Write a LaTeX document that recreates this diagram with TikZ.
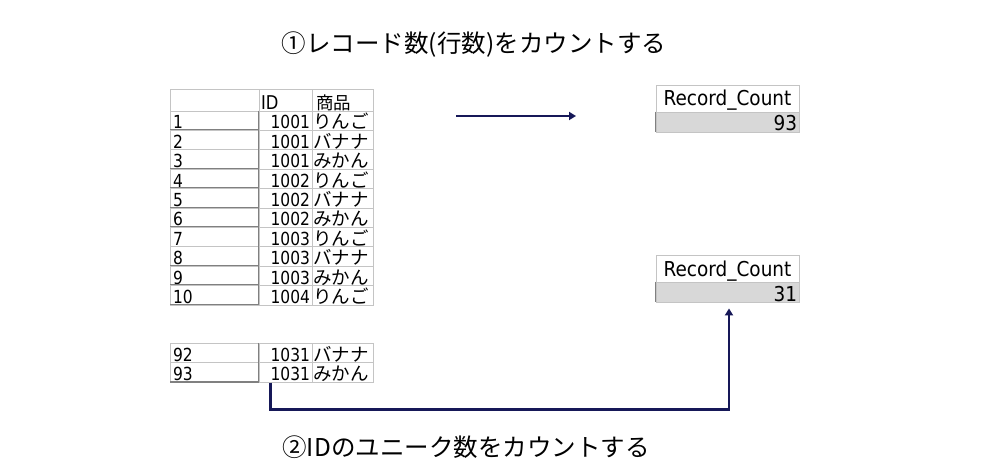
\documentclass[tikz,border=0pt]{standalone}
\usepackage{fontspec}
\setmainfont{DejaVu Sans}
\newfontfamily\cond{DejaVu Sans}[FakeStretch=0.86]
\newfontfamily\condb{DejaVu Sans}[FakeStretch=0.9]
\newfontfamily\jpfont{Noto Sans CJK JP}
\usetikzlibrary{arrows.meta,calc}
\definecolor{navy}{RGB}{22,24,88}
\definecolor{gridc}{RGB}{196,196,196}
\definecolor{darkc}{RGB}{128,128,128}
\definecolor{valfill}{RGB}{216,216,216}
\begin{document}
\begin{tikzpicture}[x=1pt,y=-1pt,
  cellbase/.style={draw=gridc, line width=0.9pt, inner ysep=1.5pt, text depth=0pt, minimum height=#1, text height=#1-3pt},
  idx/.style={cellbase=#1, minimum width=89pt, text width=83pt, inner xsep=3pt, align=left, font=\cond\fontsize{18}{18}\selectfont},
  idc/.style={cellbase=#1, minimum width=53pt, text width=49pt, inner xsep=2pt, align=right, font=\cond\fontsize{18}{18}\selectfont},
  goods/.style={cellbase=#1, minimum width=61pt, text width=59pt, inner xsep=1pt, align=left, font=\jpfont\fontsize{18.5}{18.5}\selectfont},
  rchead/.style={draw=gridc, line width=0.9pt, minimum width=143pt, minimum height=27pt, inner xsep=0pt, inner ysep=6pt, text depth=0pt, text height=15pt, font=\condb\fontsize{20.5}{20.5}\selectfont},
  rcval/.style={draw=gridc, fill=valfill, line width=0.9pt, minimum width=143pt, text width=139pt, minimum height=20pt, inner xsep=2pt, inner ysep=1pt, align=right, text depth=0pt, text height=18pt, font=\condb\fontsize{20.5}{20.5}\selectfont},
  title/.style={font=\jpfont\fontsize{24.5}{24.5}\selectfont, inner sep=0pt},
  conn/.style={draw=navy, line width=2.6pt, -{Triangle[length=7pt,width=8pt]}}
]
\useasboundingbox (0,0) rectangle (1000,470);
\fill[white] (0,0) rectangle (1000,470);

% titles
\node[title] (t1) at (474,45) {①レコード数(行数)をカウントする};
\node[title] (t2) at (466,447) {②IDのユニーク数をカウントする};

% header
\node[idx=22pt] (h0) at (214.5,100) {};
\node[idc=22pt, align=left] (h1) at (285.5,100) {\fontsize{19}{19}\selectfont ID};
\node[goods=22pt, inner xsep=4pt, text width=53pt] (h2) at (342.5,100) {\fontsize{17.5}{17.5}\selectfont 商品};

% rows 1..10
\foreach \n/\id/\g [count=\i] in {1/1001/りんご,2/1001/バナナ,3/1001/みかん,4/1002/りんご,5/1002/バナナ,6/1002/みかん,7/1003/りんご,8/1003/バナナ,9/1003/みかん,10/1004/りんご}{
  \pgfmathsetmacro\yc{111+(\i-0.5)*19.4}
  \node[idx=19.4pt] (n\n) at (214.5,\yc) {\n};
  \node[idc=19.4pt] (d\n) at (285.5,\yc) {\id};
  \node[goods=19.4pt] (g\n) at (342.5,\yc) {\g};
  \draw[darkc, line width=1.6pt] ([xshift=-0.8pt]n\n.north east) -- ([xshift=-0.8pt,yshift=0.8pt]n\n.south east) -- ([yshift=0.8pt]n\n.south west);
}

% rows 92, 93
\foreach \n/\id/\g/\yc in {92/1031/バナナ/353,93/1031/みかん/372.5}{
  \node[idx=19.5pt] (n\n) at (214.5,\yc) {\n};
  \node[idc=19.5pt] (d\n) at (285.5,\yc) {\id};
  \node[goods=19.5pt] (g\n) at (342.5,\yc) {\g};
  \draw[darkc, line width=1.6pt] ([xshift=-0.8pt]n\n.north east) -- ([xshift=-0.8pt,yshift=0.8pt]n\n.south east) -- ([yshift=0.8pt]n\n.south west);
}

% Record_Count boxes
\node[rchead] (rc1h) at (727.5,98.5) {Record\_Count};
\node[rcval] (rc1v) at (727.5,122) {93};
\node[rchead] (rc2h) at (727.5,268.5) {Record\_Count};
\node[rcval] (rc2v) at (727.5,292) {31};
\draw[darkc, line width=1.2pt] (rc1v.north west) -- (rc1v.south west);
\draw[darkc, line width=1.2pt] (rc2v.north west) -- (rc2v.south west);

% connectors
\coordinate (a1s) at (456,116);
\coordinate (a1e) at (576,116);
\draw[conn] (a1s) -- (a1e);

\coordinate (a2s) at ($(d93.south west)+(12,0)$);
\coordinate (a2e) at ($(rc2v.south)+(1.5,6)$);
\draw[conn] (a2s) |- ($(a2e)+(0,101)$) -- (a2e);
\end{tikzpicture}
\end{document}
